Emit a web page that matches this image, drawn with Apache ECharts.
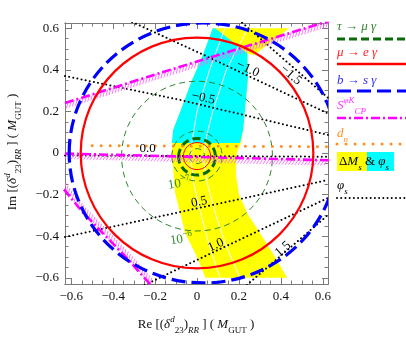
<!DOCTYPE html>
<html><head><meta charset="utf-8">
<script src="https://cdn.jsdelivr.net/npm/echarts@6/dist/echarts.min.js"></script>
<style>html,body{margin:0;padding:0;background:#fff}#c{width:406px;height:343px}</style>
</head><body><div id="c"></div>
<script>
// ---- tick values ----
const majorTicks = [-0.6, -0.4, -0.2, 0, 0.2, 0.4, 0.6];
const minorTicks = [-0.55,-0.5,-0.45,-0.35,-0.3,-0.25,-0.15,-0.1,-0.05,0.05,0.1,0.15,0.25,0.3,0.35,0.45,0.5,0.55];

// ---- contours: [centerRe, centerIm, radiusRe, radiusIm] ----
const bsgCircle = [0.03, 0, 0.64, 0.625];        // b -> s gamma
const megCircle = [0, 0, 0.555, 0.555];          // mu -> e gamma bound
const megSmall = [0, -0.015, 0.065, 0.065];      // mu -> e gamma contour
const tmgBound = [0, -0.018, 0.088, 0.088];      // tau -> mu gamma bound
const tmgContours = [[0, -0.015, 0.036, 0.036], [0, -0.015, 0.12, 0.12], [0, -0.015, 0.36, 0.36]];

// ---- Delta M_s band (yellow) and Delta M_s & phi_s (cyan) ----
const dmsBand = [[0.075,0.6],[0.02,0.45],[-0.024,0.35],[-0.08,0.2],[-0.114,0.11],[-0.12,0],[-0.105,-0.19],[-0.057,-0.385],[0.0,-0.5],[0.04,-0.6],
  [0.43,-0.6],[0.36,-0.48],[0.3,-0.385],[0.245,-0.3],[0.2,-0.2],[0.185,-0.1],[0.19,0],[0.21,0.05],[0.22,0.11],[0.243,0.36],[0.24,0.48],[0.27,0.47],[0.44,0.6]];
const dmsPhiBand = [[0.075,0.6],[0.02,0.45],[-0.024,0.35],[-0.08,0.2],[-0.114,0.11],[-0.12,0.048],[0.205,0.048],[0.22,0.11],[0.243,0.36],[0.24,0.48],[0.086,0.6]];
const whiteLine1 = [[0.133,0.6],[0.06,0.4],[0.0,0.2],[-0.025,0.05],[-0.03,-0.02],[-0.015,-0.15],[0.02,-0.3],[0.06,-0.45],[0.11,-0.6]];
const whiteLine2 = [[0.243,0.6],[0.14,0.4],[0.075,0.2],[0.045,0.08],[0.03,-0.03],[0.05,-0.15],[0.09,-0.3],[0.14,-0.45],[0.205,-0.6]];

// ---- phi_s contours ----
const phiValues = ['−1.5', '−1.0', '−0.5', '0.0', '0.5', '1.0', '1.5'];
const phiLines = [
  [[0.2,0.64],[0.625,0.265]],
  [[-0.31,0.63],[0.014,0.48],[0.625,0.19]],
  [[-0.63,0.37],[-0.08,0.255],[0.625,0.087]],
  [[-0.63,-0.012],[0.625,-0.018]],
  [[-0.63,-0.404],[-0.081,-0.284],[0.625,-0.13]],
  [[-0.25,-0.635],[-0.081,-0.553],[0.625,-0.216]],
  [[0.238,-0.635],[0.625,-0.298]]
];
const phiLabelPos = [[0.448,0.375],[0.243,0.404],[0.03,0.264],[-0.236,0.02],[0.01,-0.236],[0.09,-0.443],[0.41,-0.462]];
const phiLabelAngle = [-41, -25, -12, 0, 12, 25, 41];

// ---- S_CP^{phi K} bounds ----
const scpUpper = [[-0.63,0.24],[-0.176,0.385],[0.443,0.577],[0.63,0.635]];
const scpMid = [[-0.63,-0.003],[0.63,-0.035]];
const scpLower = [[-0.635,-0.175],[-0.55,-0.28],[-0.45,-0.385],[-0.34,-0.5],[-0.22,-0.635]];

// ---- d_n bound ----
const dnLine = [[-0.5,0.035],[0.63,0.03]];

// ---- contour labels of tau -> mu gamma ----
const tmgLabelText = ['−7', '−6'];
const tmgLabelPos = [[-0.085,-0.148],[-0.075,-0.415]];

const SERIF = 'Liberation Serif';
const fmt = v => v === 0 ? '0' : (v < 0 ? '−' : '') + Math.abs(v).toFixed(1);

function mkAxis(pos, ticks, len, labels) {
  return {
    type: 'value', min: -0.63, max: 0.625, position: pos,
    splitLine: { show: false },
    axisLine: { show: true, onZero: false, lineStyle: { color: '#7a7a7a', width: 1 } },
    axisTick: { show: true, inside: true, length: len, customValues: ticks, lineStyle: { color: '#7a7a7a', width: 1 } },
    axisLabel: labels ? { show: true, customValues: majorTicks, formatter: fmt, margin: 6, fontFamily: SERIF, fontSize: 13, color: '#111' } : { show: false }
  };
}

function circleSeries(c, color, width, dash, z) {
  return {
    type: 'custom', clip: true, z: z, silent: true, animation: false, data: [c],
    renderItem: (p, api) => {
      const ctr = api.coord([api.value(0), api.value(1)]);
      const s = api.size([api.value(2), api.value(3)], [api.value(0), api.value(1)]);
      return { type: 'ellipse', shape: { cx: ctr[0], cy: ctr[1], rx: s[0], ry: s[1] },
        style: { fill: 'none', stroke: color, lineWidth: width, lineDash: dash } };
    }
  };
}
function lineSeries(data, color, width, dash, cap, z) {
  return { type: 'line', data: data, symbol: 'none', showSymbol: false, silent: true, animation: false, z: z, clip: true,
    lineStyle: { color: color, width: width, type: dash, cap: cap || 'butt' } };
}
function polySeries(pts, color, z) {
  return { type: 'custom', clip: true, z: z, silent: true, animation: false, data: [[0, 0]],
    renderItem: (p, api) => ({ type: 'polygon', shape: { points: pts.map(q => api.coord(q)) }, style: { fill: color } }) };
}
function hatchSeries(pts, side, z) {
  return { type: 'custom', clip: true, z: z, silent: true, animation: false, data: [[0, 0]],
    renderItem: (p, api) => {
      const P = pts.map(q => api.coord(q));
      const children = [];
      const step = 3.2;
      let carry = 0;
      for (let i = 0; i < P.length - 1; i++) {
        const a = P[i], b = P[i + 1];
        const dx = b[0] - a[0], dy = b[1] - a[1];
        const L = Math.hypot(dx, dy);
        const tx = dx / L, ty = dy / L;
        const nx = -ty * side, ny = tx * side;
        let d = carry;
        for (; d < L; d += step) {
          const x = a[0] + tx * d, y = a[1] + ty * d;
          children.push({ type: 'line', shape: { x1: x, y1: y, x2: x + nx * 5.5 - tx * 3.5, y2: y + ny * 5.5 - ty * 3.5 },
            style: { stroke: '#ff66ff', lineWidth: 0.9 } });
        }
        carry = d - L;
      }
      return { type: 'group', children: children };
    } };
}

const series = [];
series.push(polySeries(dmsBand, '#ffff00', 1));
series.push(polySeries(dmsPhiBand, '#00ffff', 1));
series.push(lineSeries(whiteLine1, '#ffffff', 1, 'solid', 'butt', 2));
series.push(lineSeries(whiteLine2, '#ffffff', 1, 'solid', 'butt', 2));
tmgContours.forEach(c => series.push(circleSeries(c, '#2f862f', 1, [6, 4], 3)));
series.push(circleSeries(tmgBound, '#0b6b0b', 3, [8, 4], 3));
phiLines.forEach(l => series.push(lineSeries(l, '#000000', 2, [0.01, 4.2], 'round', 4)));
series.push(hatchSeries(scpUpper, 1, 5));
series.push(hatchSeries(scpMid, 1, 5));
series.push(hatchSeries(scpLower, -1, 5));
series.push(lineSeries(scpUpper, '#ff00ff', 2.6, [9, 3, 2, 3], 'butt', 6));
series.push(lineSeries(scpMid, '#ff00ff', 2.6, [9, 3, 2, 3], 'butt', 6));
series.push(lineSeries(scpLower, '#ff00ff', 2.6, [9, 3, 2, 3], 'butt', 6));
series.push(lineSeries(dnLine, '#ff9020', 3, [0.01, 9], 'round', 6));
series.push(circleSeries(megSmall, '#ff0000', 1, null, 7));
series.push(circleSeries(megCircle, '#ff0000', 2.2, null, 7));
series.push(circleSeries(bsgCircle, '#0000ff', 3.2, [14, 6], 8));
series.push({ type: 'custom', clip: false, z: 9, silent: true, animation: false, data: phiLabelPos,
  renderItem: (p, api) => {
    const c = api.coord([api.value(0), api.value(1)]);
    return { type: 'text', x: c[0], y: c[1], rotation: phiLabelAngle[p.dataIndex] * Math.PI / 180,
      style: { text: phiValues[p.dataIndex], fontFamily: SERIF, fontSize: 13, fill: '#000', align: 'center', verticalAlign: 'middle' } };
  } });
series.push({ type: 'custom', clip: false, z: 9, silent: true, animation: false, data: tmgLabelPos,
  renderItem: (p, api) => {
    const c = api.coord([api.value(0), api.value(1)]);
    return { type: 'text', x: c[0], y: c[1], rotation: 0.15,
      style: { text: '{b|10}{s|' + tmgLabelText[p.dataIndex] + '}', align: 'center', verticalAlign: 'middle',
        rich: { b: { fontFamily: SERIF, fontSize: 13, fill: '#2f862f', lineHeight: 18, verticalAlign: 'middle' },
                s: { fontFamily: SERIF, fontSize: 9, fill: '#2f862f', lineHeight: 10, verticalAlign: 'top' } } } };
  } });

const richMath = (color) => ({
  r: { fontFamily: SERIF, fontSize: 13, fill: color, lineHeight: 20, verticalAlign: 'middle' },
  i: { fontFamily: SERIF, fontSize: 13, fontStyle: 'italic', fill: color, lineHeight: 20, verticalAlign: 'middle' },
  sp: { fontFamily: SERIF, fontSize: 9, fontStyle: 'italic', fill: color, lineHeight: 12, verticalAlign: 'top' },
  sb: { fontFamily: SERIF, fontSize: 9, fill: color, lineHeight: 12, verticalAlign: 'bottom' },
  sbi: { fontFamily: SERIF, fontSize: 9, fontStyle: 'italic', fill: color, lineHeight: 12, verticalAlign: 'bottom' }
});
const titleText = (pre) => '{r|' + pre + ' [(}{i|δ}{sp|d}{sb|23}{r|)}{sbi|RR}{r| ] ( }{i|M}{sb|GUT}{r| )}';

const LX = 337;
function legText(y, text, color) {
  return { type: 'text', x: LX, y: y, z: 20, style: { text: text, align: 'left', verticalAlign: 'middle', rich: richMath(color) } };
}
function legLine(y, color, w, dash, cap) {
  return { type: 'line', z: 20, shape: { x1: LX, y1: y, x2: 406, y2: y }, style: { stroke: color, lineWidth: w, lineDash: dash, lineCap: cap || 'butt' } };
}

const graphic = [
  { type: 'text', x: 196, y: 325, style: { text: titleText('Re'), align: 'center', verticalAlign: 'middle', rich: richMath('#111') } },
  { type: 'text', x: 13, y: 152, rotation: Math.PI / 2, style: { text: titleText('Im'), align: 'center', verticalAlign: 'middle', rich: richMath('#111') } },
  legText(27, '{i|τ}{r| → }{i|μ γ}', '#2f862f'),
  legLine(39, '#0b6b0b', 3, [8, 4]),
  legText(53, '{i|μ}{r| → }{i|e γ}', '#ff2020'),
  legLine(64, '#ff0000', 2.5, null),
  legText(81, '{i|b}{r| → }{i|s γ}', '#3030ff'),
  legLine(91, '#0000ff', 3.2, [14, 6]),
  legText(106, '{i|S}{sp|φK}{sbi|CP}', '#ff33ff'),
  legLine(118, '#ff00ff', 2.6, [9, 3, 2, 3]),
  legText(134, '{i|d}{sbi|n}', '#ff9020'),
  legLine(144, '#ff9020', 3, [0.01, 9], 'round'),
  { type: 'rect', z: 20, shape: { x: LX, y: 152, width: 30, height: 19 }, style: { fill: '#ffff00' } },
  { type: 'rect', z: 20, shape: { x: LX + 30, y: 152, width: 27, height: 19 }, style: { fill: '#00ffff' } },
  { type: 'text', z: 21, x: LX + 2, y: 162, style: { text: '{r|Δ}{i|M}{sbi|s}{r| & }{i|φ}{sbi|s}', align: 'left', verticalAlign: 'middle', rich: richMath('#000') } },
  legText(186, '{i|φ}{sbi|s}', '#000'),
  legLine(198, '#000', 2, [0.01, 4.2], 'round')
];

const chart = echarts.init(document.getElementById('c'), null, { renderer: 'canvas' });
chart.setOption({
  animation: false,
  backgroundColor: '#fff',
  grid: { left: 65, right: 78, top: 23, bottom: 59 },
  xAxis: [mkAxis('bottom', majorTicks, 6, true), mkAxis('bottom', minorTicks, 3.5, false), mkAxis('top', majorTicks, 6, false), mkAxis('top', minorTicks, 3.5, false)],
  yAxis: [mkAxis('left', majorTicks, 6, true), mkAxis('left', minorTicks, 3.5, false), mkAxis('right', majorTicks, 6, false), mkAxis('right', minorTicks, 3.5, false)],
  series: series,
  graphic: graphic
});
</script></body></html>
